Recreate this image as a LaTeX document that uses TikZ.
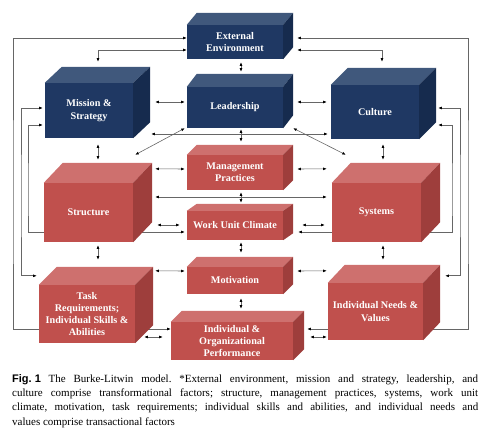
\documentclass[tikz,border=0pt]{standalone}
\usepackage{fontspec}
\setmainfont{Liberation Serif}
\newfontfamily\capsans{Liberation Sans}
\usepackage{tikz}
\usetikzlibrary{arrows.meta,backgrounds}
\definecolor{blnavy}{RGB}{31,56,99}
\definecolor{blnavytop}{RGB}{64,88,124}
\definecolor{blnavyside}{RGB}{22,43,78}
\definecolor{blred}{RGB}{192,80,77}
\definecolor{blredtop}{RGB}{206,112,110}
\definecolor{blredside}{RGB}{158,62,60}
\tikzset{
  cube face/.style={inner sep=0pt,text=white,align=center,font=\fontsize{10.2}{12.3}\selectfont\bfseries},
  dar/.style={draw=black!60,line width=0.6pt,{Latex[black,length=3.6pt,width=2.8pt]}-{Latex[black,length=3.6pt,width=2.8pt]}},
  caption/.style={inner sep=0pt,anchor=north west,text width=466pt,align=justify,font=\fontsize{11}{14.4}\selectfont\frenchspacing}
}
% name, centre, width, height, depth, colour, text
\newcommand{\cuboid}[7]{%
  \node[cube face,fill=#6,minimum width=#3pt,minimum height=#4pt] (#1) at (#2) {#7};
  \fill[#6top] (#1.north west) -- ++(#5) -- ([shift={(#5)}]#1.north east) -- (#1.north east) -- cycle;
  \fill[#6side] (#1.north east) -- ++(#5) -- ([shift={(#5)}]#1.south east) -- (#1.south east) -- cycle;
}
\begin{document}
\begin{tikzpicture}[x=1pt,y=-1pt]
\useasboundingbox (0,0) rectangle (483,438);
% transformational factors
\cuboid{ext}{235,42}{96}{34}{10,-12}{blnavy}{External\\Environment}
\cuboid{mis}{89,110.5}{88}{55}{17,-16}{blnavy}{Mission \&\\Strategy}
\cuboid{lead}{235,107.5}{96}{41}{10,-13}{blnavy}{Leadership}
\cuboid{cul}{375,112}{88}{54}{17,-17}{blnavy}{Culture}
% transactional factors
\cuboid{man}{235,172.5}{96}{35}{10,-10}{blred}{Management\\Practices}
\cuboid{str}{88.5,212.5}{89}{59}{19,-20}{blred}{Structure}
\cuboid{wuc}{235,225.5}{96}{29}{10,-7}{blred}{Work Unit Climate}
\cuboid{sys}{376.5,212.5}{89}{59}{19,-20}{blred}{Systems}
\cuboid{mot}{235,280.5}{96}{27}{10,-10}{blred}{Motivation}
\cuboid{task}{87,314}{96}{58}{18,-18}{blred}{Task\\Requirements;\\Individual Skills \&\\Abilities}
\cuboid{need}{375.5,311.5}{95}{57}{17,-18}{blred}{Individual Needs \&\\Values}
\cuboid{perf}{232,341}{122}{38}{11,-11}{blred}{Individual \&\\Organizational\\Performance}
% rails of the feedback loops
\coordinate (railA) at (13,200);
\coordinate (railC) at (21,200);
\coordinate (railD) at (28,200);
\coordinate (railE) at (452,200);
\coordinate (railF) at (460,200);
\coordinate (railB) at (468,200);
\begin{pgfonlayer}{background}
\draw[dar] ([yshift=12pt]perf.west) -| (railA) |- ([yshift=4pt]ext.west);
\draw[dar] ([xshift=14pt,yshift=12pt]perf.east) -| (railB) |- ([xshift=14pt,yshift=4pt]ext.east);
\draw[dar] ([yshift=-8pt]ext.west) -| ([xshift=9pt,yshift=21pt]mis.north);
\draw[dar] ([xshift=14pt,yshift=-8pt]ext.east) -| ([xshift=7pt,yshift=23pt]cul.north);
\draw[dar] ([xshift=6pt,yshift=-3pt]ext.south) -- ([xshift=6pt,yshift=15pt]lead.north);
\draw[dar] ([xshift=22pt,yshift=8.5pt]mis.east) -- ([xshift=-2pt,yshift=5.5pt]lead.west);
\draw[dar] ([xshift=14pt,yshift=5.5pt]lead.east) -- ([xshift=-4pt,yshift=10pt]cul.west);
\draw[dar] ([xshift=18pt,yshift=-23.5pt]mis.east) -- ([xshift=-3pt,yshift=-22pt]cul.west);
\draw[dar] ([xshift=6pt,yshift=-1pt]lead.south) -- ([xshift=6pt,yshift=13pt]man.north);
\draw[dar] ([xshift=-2pt]lead.south west) -- ([xshift=2pt,yshift=28pt]str.north east);
\draw[dar] ([xshift=10pt]lead.south east) -- ([xshift=14pt,yshift=28pt]sys.north west);
\draw[dar] ([xshift=9pt,yshift=-6pt]mis.south) -- ([xshift=9.5pt,yshift=23pt]str.north);
\draw[dar] ([xshift=8pt,yshift=-5pt]cul.south) -- ([xshift=6.5pt,yshift=23pt]sys.north);
\draw[dar] ([xshift=-2pt,yshift=2.5pt]mis.west) -| (railC) |- ([xshift=-2pt,yshift=9pt]task.north west);
\draw[dar] ([xshift=-2pt,yshift=-14.5pt]mis.west) -| (railD) |- ([xshift=-2pt,yshift=-6.5pt]wuc.west);
\draw[dar] ([xshift=19pt,yshift=-13pt]cul.east) -| (railE) |- ([xshift=15pt,yshift=-6.5pt]wuc.east);
\draw[dar] ([xshift=19pt,yshift=4pt]cul.east) -| (railF) |- ([xshift=22pt,yshift=7pt]need.north east);
\draw[dar] ([xshift=22pt,yshift=14pt]str.north east) -- ([xshift=-2pt,yshift=3.5pt]man.west);
\draw[dar] ([xshift=14pt,yshift=3.5pt]man.east) -- ([xshift=-5pt,yshift=14pt]sys.north west);
\draw[dar] ([xshift=22pt,yshift=15.5pt]str.east) -- ([xshift=-5pt,yshift=15.5pt]sys.west);
\draw[dar] ([xshift=6pt,yshift=-2pt]man.south) -- ([xshift=6pt,yshift=8pt]wuc.north);
\draw[dar] ([xshift=24pt,yshift=-12.5pt]str.east) -- ([xshift=-7pt,yshift=0.5pt]wuc.west);
\draw[dar] ([xshift=19pt,yshift=0.5pt]wuc.east) -- ([xshift=-7pt,yshift=-12.5pt]sys.west);
\draw[dar] ([xshift=9.5pt,yshift=-3pt]str.south) -- ([xshift=11pt,yshift=25pt]task.north);
\draw[dar] ([xshift=6.5pt,yshift=-3pt]sys.south) -- ([xshift=7.5pt,yshift=23pt]need.north);
\draw[dar] ([xshift=6pt,yshift=-2pt]wuc.south) -- ([xshift=6pt,yshift=14pt]mot.north);
\draw[dar] ([xshift=20pt,yshift=14pt]task.north east) -- ([xshift=-2pt,yshift=9.5pt]mot.west);
\draw[dar] ([xshift=14pt,yshift=9.5pt]mot.east) -- ([xshift=-1pt,yshift=12pt]need.north west);
\draw[dar] ([xshift=6pt,yshift=-4pt]mot.south) -- ([xshift=9pt,yshift=13pt]perf.north);
\draw[dar] ([xshift=9pt,yshift=-23pt]task.east) -- ([xshift=-8pt,yshift=4pt]perf.west);
\draw[dar] ([xshift=17pt,yshift=4pt]perf.east) -- ([xshift=-1pt,yshift=-25.5pt]need.west);
\end{pgfonlayer}
% caption
\node[caption] (cap) at (12,374) {\mbox{\capsans\bfseries Fig.~1}\hspace{0.7em}The Burke-Litwin model. *External environment, mission and strategy, leadership, and\linebreak culture comprise transformational factors; structure, management practices, systems, work unit\linebreak climate, motivation, task requirements; individual skills and abilities, and individual needs and\linebreak values comprise transactional factors};
\end{tikzpicture}
\end{document}
